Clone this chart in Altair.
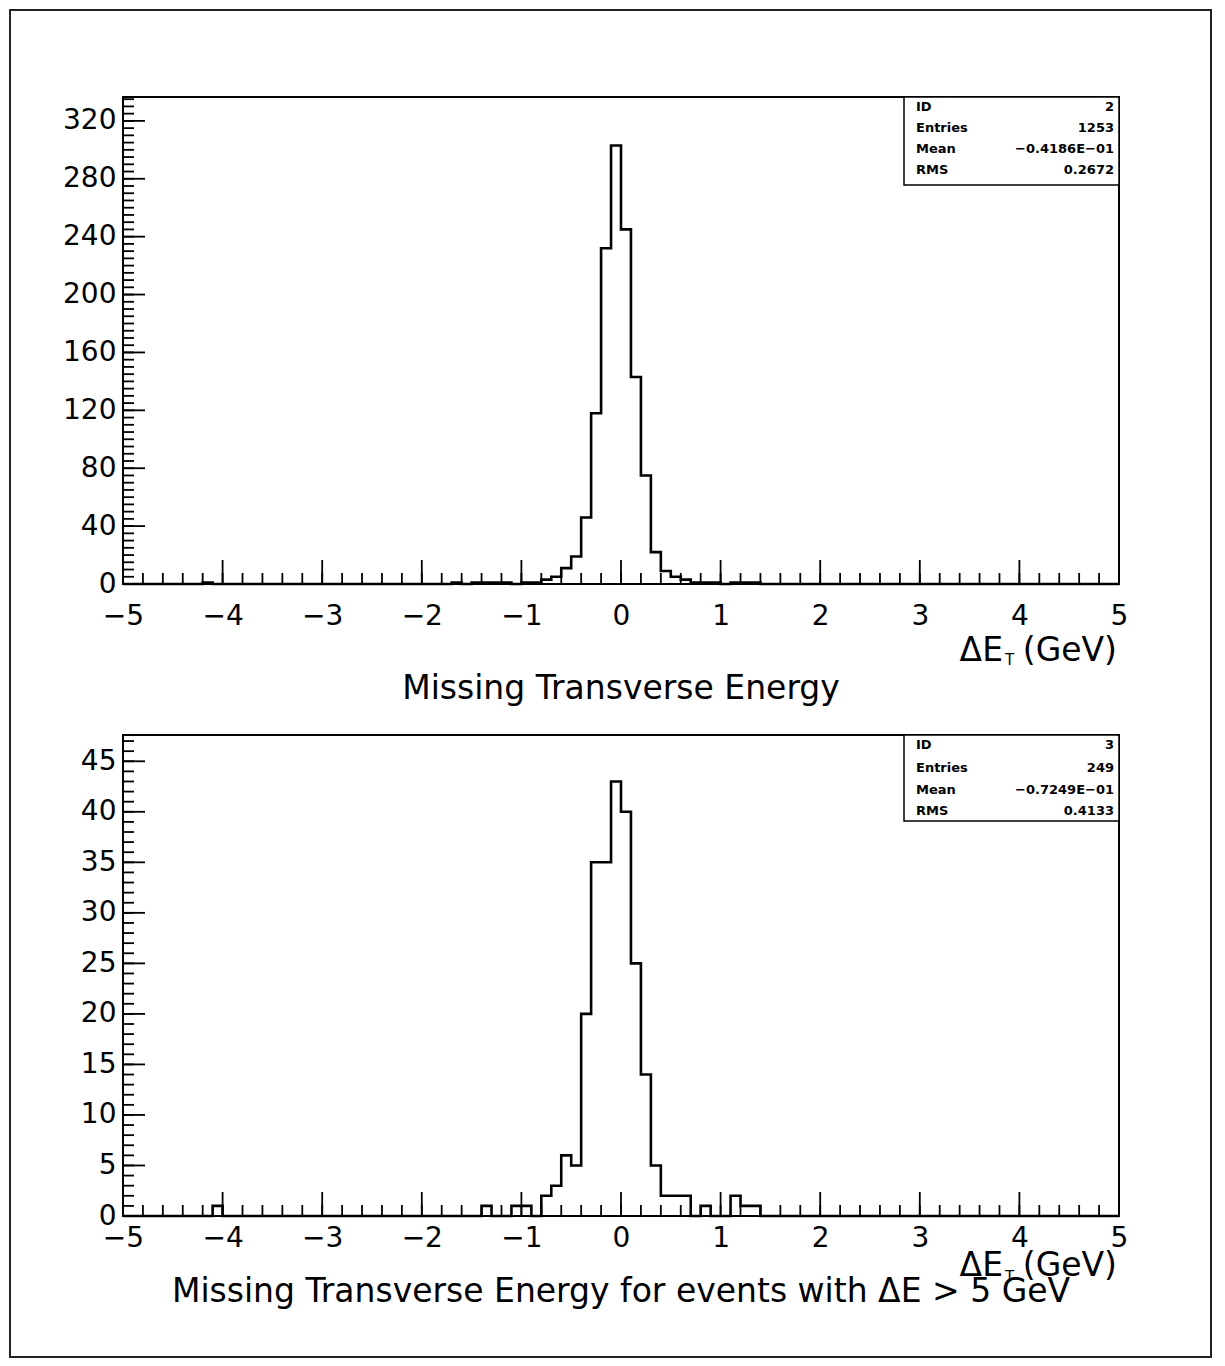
import altair as alt
import pandas as pd

# ---------------- data ----------------
# histogram bins: width 0.1 from -5 to 5; only non-empty bins listed (lower edge, count)
top_bin_lo = [-4.2, -1.7, -1.5, -1.4, -1.3, -1.2, -1.0, -0.9, -0.8, -0.7, -0.6, -0.5,
              -0.4, -0.3, -0.2, -0.1, 0.0, 0.1, 0.2, 0.3, 0.4, 0.5, 0.6, 0.7, 0.8, 0.9,
              1.1, 1.2, 1.3]
top_counts = [1, 1, 1, 1, 1, 1, 1, 1, 3, 5, 11, 19,
              46, 118, 232, 303, 245, 143, 75, 22, 9, 5, 3, 1, 1, 1,
              1, 1, 1]

bot_bin_lo = [-4.1, -1.4, -1.1, -1.0, -0.8, -0.7, -0.6, -0.5, -0.4, -0.3, -0.2, -0.1,
              0.0, 0.1, 0.2, 0.3, 0.4, 0.5, 0.6, 0.8, 1.1, 1.2, 1.3]
bot_counts = [1, 1, 1, 1, 2, 3, 6, 5, 20, 35, 35, 43,
              40, 25, 14, 5, 2, 2, 2, 1, 2, 1, 1]

x_labels = [-5, -4, -3, -2, -1, 0, 1, 2, 3, 4, 5]
top_y_labels = [0, 40, 80, 120, 160, 200, 240, 280, 320]
bot_y_labels = [0, 5, 10, 15, 20, 25, 30, 35, 40, 45]

stats_names = ["ID", "Entries", "Mean", "RMS"]
top_stats = ["2", "1253", "\u22120.4186E\u221201", "0.2672"]
bot_stats = ["3", "249", "\u22120.7249E\u221201", "0.4133"]

top_caption = "Missing Transverse Energy"
bot_caption = "Missing Transverse Energy for events with \u0394E > 5 GeV"

# ---------------- layout ----------------
W = 996
H_TOP = 487
H_BOT = 481
FONT = "DejaVu Sans"


def hist_frame(lo, counts):
    edges = [round(-5 + 0.1 * i, 1) for i in range(100)]
    lookup = {round(a, 1): c for a, c in zip(lo, counts)}
    vals = [lookup.get(e, 0) for e in edges]
    return pd.DataFrame({"x": edges + [5.0], "y": vals + [0]})


def one():
    return pd.DataFrame({"a": [0]})


def text(t, x, y, size=33, align="left", weight="normal"):
    return alt.Chart(one()).mark_text(
        text=t, font=FONT, fontSize=size, align=align, baseline="alphabetic",
        fontWeight=weight, color="black"
    ).encode(x=alt.value(x), y=alt.value(y))


def panel(lo, counts, ymax, ylabels, ymajor, yminor, height, label_pad,
          stats, rows, bh, title_base, sub_base, caption, caption_base, frame=None):
    xs = alt.Scale(domain=[-5, 5], nice=False, zero=False)
    ys = alt.Scale(domain=[0, ymax], nice=False, zero=True)
    xaxis = alt.Axis(values=x_labels, title=None, format="d", labelPadding=label_pad)
    yaxis = alt.Axis(values=ylabels, title=None, format="d", labelPadding=7)

    hist = alt.Chart(hist_frame(lo, counts)).mark_line(
        interpolate="step-after", color="black", strokeWidth=2.6
    ).encode(
        x=alt.X("x:Q", scale=xs, axis=xaxis),
        y=alt.Y("y:Q", scale=ys, axis=yaxis),
    )

    xmaj = pd.DataFrame({"x": x_labels})
    xmin = pd.DataFrame({"x": [round(-5 + 0.2 * i, 1) for i in range(51)]})
    ymaj = pd.DataFrame({"y": [ymajor * i for i in range(int(ymax // ymajor) + 1)]})
    ymin = pd.DataFrame({"y": [yminor * i for i in range(int(ymax // yminor) + 1)]})

    def xt(df, ln):
        return alt.Chart(df).mark_rule(color="black", strokeWidth=1.8).encode(
            x=alt.X("x:Q", scale=xs, axis=xaxis),
            y=alt.value(height), y2=alt.value(height - ln))

    def yt(df, ln):
        return alt.Chart(df).mark_rule(color="black", strokeWidth=1.8).encode(
            y=alt.Y("y:Q", scale=ys, axis=yaxis),
            x=alt.value(0), x2=alt.value(ln))

    layers = [hist, xt(xmin, 11), xt(xmaj, 24), yt(ymin, 11), yt(ymaj, 22)]

    # statistics box
    bx0, bx1 = 781, W
    layers.append(alt.Chart(one()).mark_rect(
        fill="white", stroke="black", strokeWidth=1.5
    ).encode(x=alt.value(bx0), x2=alt.value(bx1), y=alt.value(0), y2=alt.value(bh)))
    for n, v, yb in zip(stats_names, stats, rows):
        layers.append(text(n, bx0 + 12, yb, size=13, weight="bold"))
        layers.append(text(v, bx1 - 5, yb, size=13, align="right", weight="bold"))

    # axis title  ΔE_T (GeV)
    layers.append(text("\u0394E", 880, title_base, align="right"))
    layers.append(text("T", 882, sub_base, size=15))
    layers.append(text("(GeV)", 994, title_base, align="right"))
    # caption
    layers.append(text(caption, W / 2, caption_base, align="center"))

    if frame is not None:
        layers.append(frame)

    return alt.layer(*layers).properties(width=W, height=height)


outer = alt.Chart(one()).mark_rect(
    fill="transparent", stroke="#222222", strokeWidth=2
).encode(x=alt.value(-113), x2=alt.value(1088),
         y=alt.value(-725), y2=alt.value(622))

top = panel(top_bin_lo, top_counts, 336.5, top_y_labels, 40, 5, H_TOP, 18,
            top_stats, [13.5, 34.5, 55.5, 76.5], 88, 564, 568, top_caption, 602)
bot = panel(bot_bin_lo, bot_counts, 47.6, bot_y_labels, 5, 1, H_BOT, 8,
            bot_stats, [13.5, 36.5, 58.5, 79.5], 86, 541, 547, bot_caption, 567,
            frame=outer)

chart = alt.vconcat(top, bot, spacing=151, bounds="flush").properties(
    padding=0
).configure_view(
    stroke="black", strokeWidth=2
).configure_axis(
    labelFont=FONT, labelFontSize=28, labelColor="black", ticks=False,
    domain=False, grid=False, labelFlush=False, labelOverlap=False
)

chart.save("out.html", embed_options={"renderer": "svg", "actions": False})
